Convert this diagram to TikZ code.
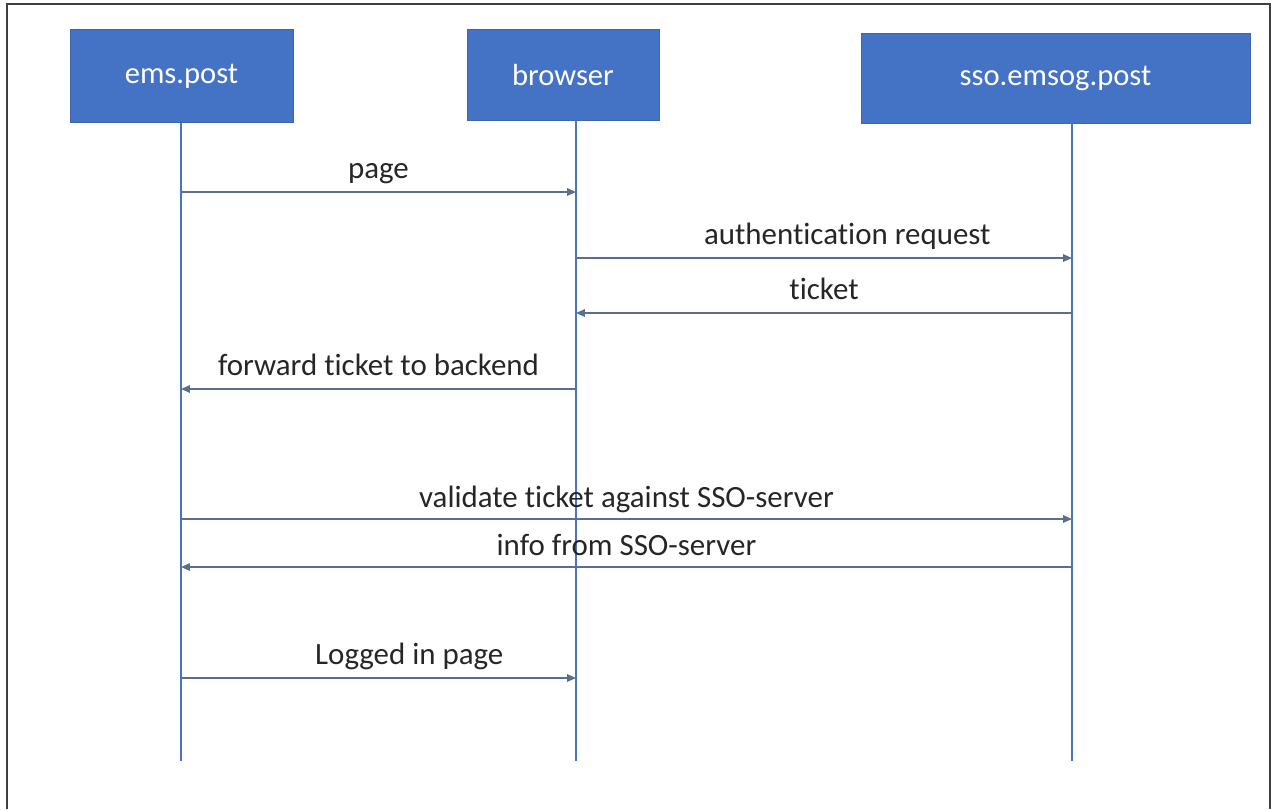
\documentclass[tikz,border=0pt]{standalone}
\usepackage{fontspec}
\setmainfont{Carlito}[Ligatures=NoCommon]
\usepackage{tikz}
\usetikzlibrary{arrows.meta,positioning}
\definecolor{boxblue}{HTML}{4472C4}
\definecolor{boxedge}{HTML}{3C65AE}
\definecolor{lifeblue}{HTML}{4C74BE}
\definecolor{msggray}{HTML}{5A6E94}
\definecolor{labelink}{HTML}{262626}
\tikzset{
  party/.style={draw=boxedge, line width=0.5pt, fill=boxblue, text=white,
    font=\fontsize{17.4}{20}\selectfont, inner sep=0pt},
  lifeline/.style={draw=lifeblue, line width=1.4pt},
  msg/.style={draw=msggray, line width=0.8pt,
    -{Triangle[length=5pt,width=4.2pt]}},
  msglabel/.style={above=0.26cm, inner sep=0pt, text depth=0pt,
    text=labelink, font=\fontsize{17.6}{20}\selectfont}
}

\begin{document}
\begin{tikzpicture}
    [x=0.02cm, y=-0.02cm]
    \useasboundingbox (0,0) rectangle (1273,809);
    % frame
    \draw[line width=1.1pt, color=black!75] (7,809) -- (7,4) -- (1270,4) -- (1270,809);
    % parties
    \node[party, minimum width=4.46cm, minimum height=1.86cm] (ems) at (181.5,76) {ems.post};
    \node[party, minimum width=3.84cm, minimum height=1.82cm] (browser) at (563,74.5) {browser};
    \node[party, minimum width=7.78cm, minimum height=1.80cm] (sso) at (1055.5,78) {sso.emsog.post};
    % lifelines
    \coordinate (emsL) at (181,761);
    \coordinate (brL) at (576,761);
    \coordinate (ssoL) at (1072,761);
    \draw[lifeline] (ems.south -| emsL) -- (emsL);
    \draw[lifeline] (browser.south -| brL) -- (brL);
    \draw[lifeline] (sso.south -| ssoL) -- (ssoL);
    % messages
    \draw[msg] (emsL |- 0,192) -- node[msglabel] {page} (brL |- 0,192);
    \draw[msg] (brL |- 0,258) -- node[msglabel, pos=0.547] {authentication request} (ssoL |- 0,258);
    \draw[msg] (ssoL |- 0,313) -- node[msglabel] {ticket} (brL |- 0,313);
    \draw[msg] (brL |- 0,389) -- node[msglabel] {forward ticket to backend} (emsL |- 0,389);
    \draw[msg] (emsL |- 0,519) -- node[msglabel, above=0.22cm] {validate ticket against SSO-server} (ssoL |- 0,519);
    \draw[msg] (ssoL |- 0,567) -- node[msglabel, above=0.22cm] {info from SSO-server} (emsL |- 0,567);
    \draw[msg] (emsL |- 0,678) -- node[msglabel, pos=0.578] {Logged in page} (brL |- 0,678);
  \end{tikzpicture}
\end{document}
